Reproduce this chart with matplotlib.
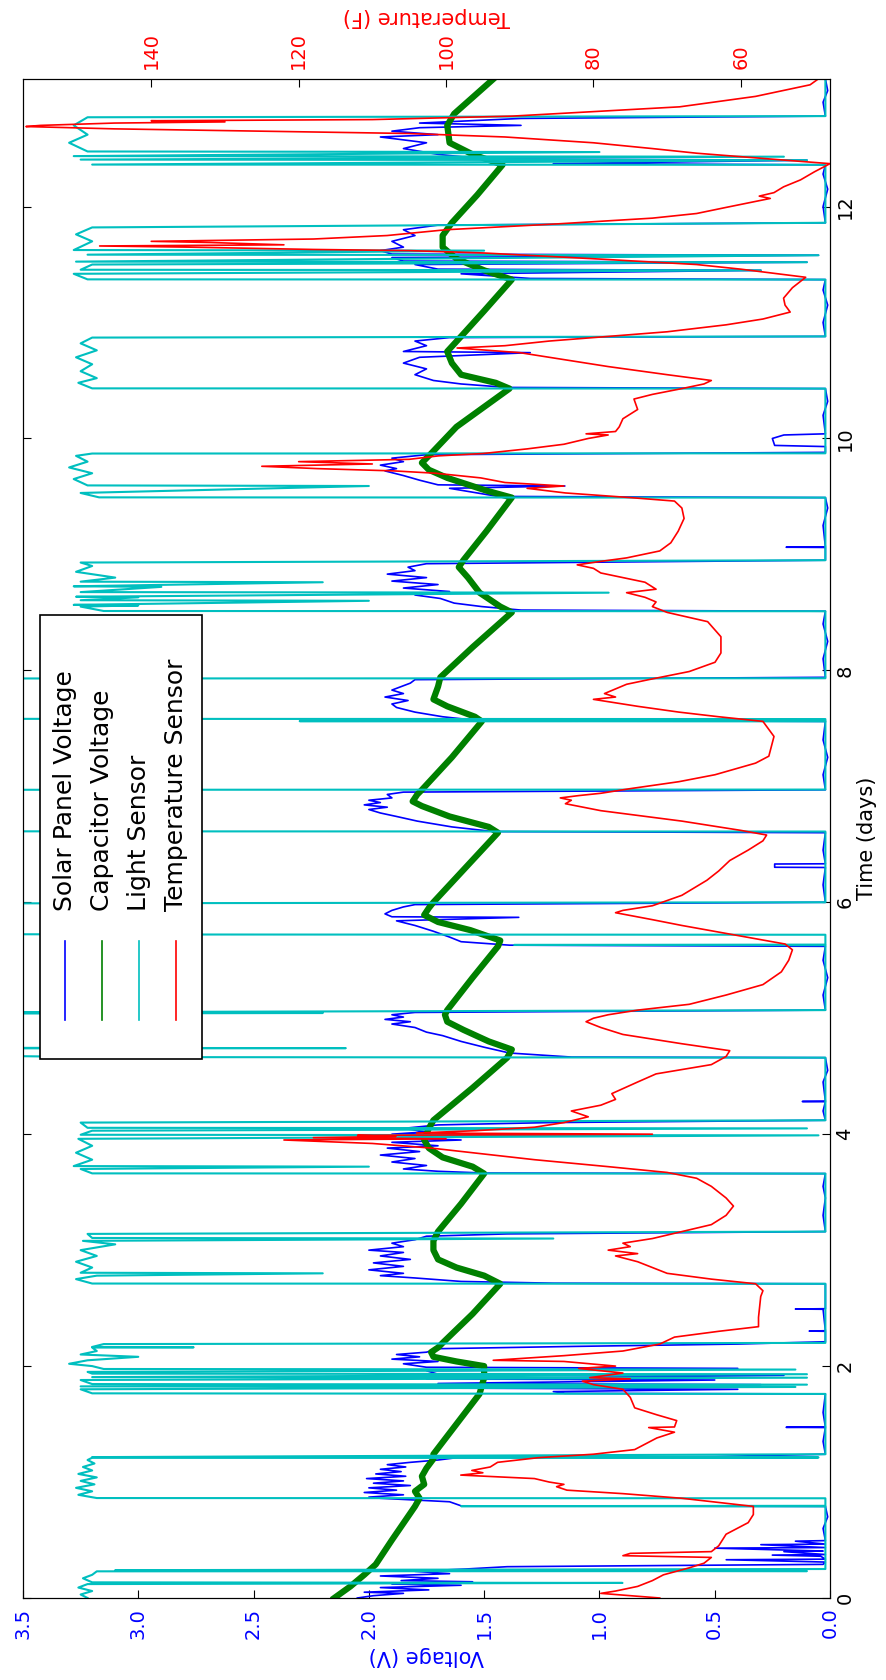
import numpy as np
import matplotlib
matplotlib.use('Agg')
import matplotlib.pyplot as plt
from matplotlib.lines import Line2D
from matplotlib.patches import Rectangle

# (time in days, volts) -- solar panel voltage
solar = [(0.00,2.05),(0.02,1.98),(0.04,1.85),(0.05,2.02),(0.07,1.74),(0.09,1.95),(0.11,1.60),(0.12,1.90),(0.14,1.55),(0.15,1.86),(0.17,1.70),(0.19,1.95),(0.21,1.65),(0.23,1.80),(0.25,1.58),(0.27,1.40),(0.29,0.03),
(0.31,0.02),(0.33,0.45),(0.335,0.02),(0.36,0.04),(0.37,0.25),(0.375,0.02),(0.40,0.20),(0.405,0.03),(0.43,0.50),(0.435,0.02),(0.46,0.30),(0.465,0.02),(0.49,0.15),(0.495,0.02),(0.60,0.03),(0.70,0.01),(0.79,0.02),
(0.795,1.60),(0.83,1.65),(0.86,1.95),(0.87,2.00),(0.89,1.85),(0.91,2.02),(0.93,1.88),(0.95,2.00),(0.97,1.82),(0.99,1.98),(1.01,1.85),(1.03,2.01),(1.05,1.84),(1.07,1.97),(1.09,1.86),(1.11,1.95),(1.13,1.84),(1.15,1.92),(1.17,1.82),(1.19,1.70),(1.21,1.62),(1.22,0.50),(1.24,0.02),
(1.35,0.03),(1.47,0.02),(1.472,0.19),(1.475,0.02),(1.60,0.03),(1.76,0.02),
(1.765,1.15),(1.78,1.20),(1.80,0.40),(1.81,1.65),(1.84,0.30),(1.85,1.70),(1.88,0.50),(1.89,1.75),(1.92,0.20),(1.93,1.70),(1.96,1.75),(1.98,0.40),(1.99,1.75),(2.02,1.85),(2.04,1.70),(2.06,1.90),(2.08,1.78),(2.10,1.88),(2.12,1.75),(2.15,1.70),(2.17,1.10),(2.19,0.40),(2.21,0.02),
(2.30,0.02),(2.302,0.09),(2.305,0.02),(2.49,0.03),(2.492,0.15),(2.495,0.02),(2.60,0.02),(2.71,0.02),
(2.715,1.20),(2.73,1.60),(2.76,1.80),(2.78,1.95),(2.80,1.85),(2.83,2.00),(2.86,1.85),(2.89,1.98),(2.92,1.82),(2.95,1.95),(2.98,1.85),(3.00,2.00),(3.03,1.85),(3.06,1.90),(3.09,1.80),(3.12,1.75),(3.14,1.40),(3.16,0.02),
(3.30,0.03),(3.45,0.02),(3.55,0.03),(3.66,0.02),
(3.665,1.50),(3.68,1.70),(3.70,1.85),(3.73,1.75),(3.76,1.90),(3.79,1.80),(3.82,1.95),(3.85,1.78),(3.88,1.92),(3.90,1.70),(3.93,1.90),(3.95,1.60),(3.97,1.95),(3.99,1.30),(4.00,1.90),(4.02,1.75),(4.05,1.85),(4.08,1.70),(4.10,1.22),(4.12,0.02),
(4.20,0.03),(4.28,0.02),(4.282,0.12),(4.285,0.02),(4.45,0.03),(4.55,0.01),(4.66,0.02),
(4.665,1.12),(4.70,1.39),(4.75,1.50),(4.80,1.60),(4.85,1.68),(4.88,1.75),(4.92,1.80),(4.95,1.90),(4.97,1.82),(4.99,1.93),(5.01,1.85),(5.03,1.90),(5.05,1.80),(5.07,0.02),
(5.20,0.03),(5.35,0.01),(5.50,0.03),(5.62,0.02),
(5.63,1.39),(5.66,1.60),(5.70,1.65),(5.75,1.72),(5.80,1.80),(5.84,1.88),(5.87,1.35),(5.875,1.90),(5.90,1.93),(5.93,1.90),(5.96,1.85),(5.98,1.80),(6.00,0.02),
(6.15,0.03),(6.30,0.02),(6.302,0.24),(6.33,0.24),(6.332,0.02),(6.45,0.03),(6.60,0.02),
(6.61,1.46),(6.65,1.64),(6.70,1.79),(6.74,1.88),(6.77,1.95),(6.80,2.00),(6.82,1.92),(6.84,2.02),(6.86,1.95),(6.88,2.00),(6.90,1.90),(6.93,1.92),(6.95,1.85),(6.97,0.02),
(7.10,0.03),(7.25,0.01),(7.40,0.03),(7.56,0.02),
(7.57,1.54),(7.60,1.68),(7.64,1.80),(7.68,1.88),(7.71,1.90),(7.74,1.83),(7.77,1.93),(7.80,1.85),(7.83,1.90),(7.86,1.86),(7.89,1.82),(7.92,1.80),(7.94,0.02),
(8.10,0.03),(8.25,0.01),(8.40,0.03),(8.51,0.02),
(8.52,1.34),(8.55,1.51),(8.58,1.63),(8.62,1.69),(8.65,1.80),(8.68,1.65),(8.71,1.85),(8.74,1.70),(8.77,1.90),(8.80,1.75),(8.83,1.92),(8.86,1.80),(8.89,1.83),(8.92,1.75),(8.95,0.02),
(9.06,0.02),(9.062,0.19),(9.065,0.02),(9.25,0.03),(9.40,0.01),(9.49,0.02),
(9.50,1.44),(9.54,1.56),(9.57,1.65),(9.59,1.15),(9.60,1.70),(9.64,1.78),(9.68,1.85),(9.72,1.93),(9.74,1.88),(9.77,1.95),(9.80,1.85),(9.83,1.90),(9.86,1.75),(9.88,0.02),
(9.93,0.02),(9.94,0.24),(10.00,0.25),(10.03,0.20),(10.04,0.02),(10.20,0.03),(10.32,0.01),(10.43,0.02),
(10.44,1.40),(10.47,1.60),(10.50,1.72),(10.55,1.80),(10.60,1.75),(10.65,1.85),(10.70,1.78),(10.74,1.30),(10.75,1.85),(10.80,1.75),(10.84,1.80),(10.87,1.65),(10.88,0.02),
(11.00,0.03),(11.15,0.01),(11.28,0.03),(11.37,0.02),
(11.38,1.30),(11.42,1.60),(11.45,0.30),(11.46,1.70),(11.50,1.80),(11.52,0.10),(11.53,1.85),(11.56,1.90),(11.58,0.05),(11.59,1.90),(11.62,1.95),(11.65,1.85),(11.70,1.90),(11.75,1.80),(11.80,1.85),(11.84,1.70),(11.86,0.02),
(12.00,0.03),(12.15,0.01),(12.28,0.03),(12.36,0.02),
(12.37,1.20),(12.40,0.10),(12.41,1.50),(12.45,1.70),(12.50,1.85),(12.55,1.75),(12.60,1.95),(12.62,1.70),(12.65,1.90),(12.68,1.78),(12.70,1.34),(12.72,1.78),(12.76,1.34),(12.78,0.02),
(12.90,0.03),(13.00,0.01),(13.10,0.02)]

# capacitor voltage
capacitor = [(0.00,2.15),(0.10,2.08),(0.20,2.02),(0.29,1.97),(0.50,1.90),(0.79,1.80),(0.86,1.78),(0.92,1.80),(0.98,1.76),(1.05,1.77),(1.12,1.75),(1.20,1.72),(1.24,1.72),
(1.50,1.62),(1.76,1.52),(1.90,1.50),(2.00,1.50),(2.04,1.62),(2.08,1.72),(2.12,1.73),(2.16,1.70),(2.20,1.68),(2.45,1.55),(2.71,1.43),(2.78,1.50),(2.85,1.62),(2.92,1.70),(3.00,1.72),(3.08,1.72),(3.16,1.70),
(3.40,1.60),(3.66,1.50),(3.72,1.55),(3.80,1.68),(3.88,1.74),(3.95,1.76),(4.05,1.74),(4.12,1.72),(4.40,1.55),(4.66,1.40),(4.73,1.38),(4.80,1.48),(4.90,1.59),(4.97,1.66),(5.03,1.67),(5.07,1.66),
(5.35,1.55),(5.62,1.44),(5.67,1.43),(5.76,1.56),(5.83,1.70),(5.89,1.76),(5.95,1.74),(6.00,1.72),(6.30,1.58),(6.60,1.44),(6.65,1.48),(6.74,1.65),(6.83,1.77),(6.87,1.81),(6.93,1.79),(6.97,1.77),
(7.25,1.64),(7.56,1.51),(7.60,1.54),(7.69,1.66),(7.75,1.72),(7.86,1.70),(7.94,1.69),(8.20,1.55),(8.50,1.38),(8.55,1.43),(8.67,1.52),(8.80,1.57),(8.89,1.61),(8.95,1.59),
(9.20,1.49),(9.49,1.38),(9.55,1.49),(9.66,1.66),(9.73,1.74),(9.79,1.77),(9.87,1.73),(10.10,1.62),(10.43,1.39),(10.48,1.45),(10.55,1.60),(10.65,1.64),(10.75,1.66),(10.88,1.60),
(11.10,1.50),(11.37,1.38),(11.45,1.50),(11.55,1.62),(11.65,1.68),(11.75,1.68),(11.86,1.64),(12.10,1.53),(12.36,1.42),(12.45,1.55),(12.55,1.65),(12.70,1.66),(12.80,1.63),(13.10,1.46)]

# light sensor
light = [(0.00,3.22),(0.03,3.25),(0.06,3.20),(0.09,3.26),(0.12,3.22),(0.13,0.90),(0.135,3.20),(0.17,3.24),(0.20,3.20),(0.23,3.18),(0.232,0.10),(0.24,3.10),(0.25,0.02),
(0.79,0.02),(0.792,1.60),(0.795,0.02),(0.86,0.02),(0.862,3.18),(0.89,3.26),(0.92,3.20),(0.95,3.27),(0.98,3.19),(1.01,3.25),(1.04,3.18),(1.07,3.26),(1.10,3.20),(1.13,3.24),(1.16,3.19),(1.19,3.22),(1.21,3.20),(1.212,0.05),(1.215,3.20),(1.24,0.02),
(1.76,0.02),(1.765,3.20),(1.80,3.25),(1.82,0.15),(1.825,3.25),(1.84,0.10),(1.845,3.20),(1.88,3.25),(1.90,0.10),(1.905,3.20),(1.93,0.10),(1.935,3.20),(1.95,3.22),(1.97,0.15),(1.975,3.15),(2.00,3.20),(2.02,3.30),(2.05,3.22),(2.08,3.00),(2.10,3.25),(2.13,3.18),(2.16,3.20),(2.162,2.76),(2.165,3.20),(2.19,3.15),(2.20,0.02),
(2.71,0.02),(2.712,3.20),(2.75,3.27),(2.78,3.18),(2.80,2.20),(2.805,3.25),(2.85,3.20),(2.90,3.27),(2.95,3.18),(3.00,3.25),(3.05,3.10),(3.08,3.24),(3.10,1.20),(3.105,3.20),(3.14,3.22),(3.16,0.02),
(3.66,0.02),(3.662,3.20),(3.70,3.25),(3.72,2.00),(3.725,3.28),(3.78,3.20),(3.84,3.27),(3.90,3.20),(3.96,3.26),(3.99,0.05),(3.995,3.25),(4.03,3.20),(4.05,0.10),(4.055,3.22),(4.10,3.25),(4.12,0.02),
(4.66,0.02),(4.665,3.20),(4.68,3.80),(4.74,3.80),(4.742,2.10),(4.745,3.80),(5.04,3.80),(5.045,2.20),(5.05,3.80),(5.07,0.02),
(5.63,0.02),(5.632,1.37),(5.635,0.02),(5.72,0.02),(5.722,2.73),(5.725,3.80),(5.99,3.80),(6.00,0.02),
(6.61,0.02),(6.612,3.80),(6.97,3.80),(6.972,0.02),
(7.56,0.02),(7.562,2.30),(7.565,0.02),(7.58,0.02),(7.582,3.80),(7.93,3.80),(7.932,0.02),
(8.51,0.02),(8.512,3.15),(8.55,3.25),(8.56,3.00),(8.565,3.28),(8.60,2.00),(8.605,3.25),(8.63,3.00),(8.635,3.27),(8.67,0.96),(8.675,3.25),(8.72,2.90),(8.725,3.28),(8.76,2.20),(8.765,3.25),(8.80,3.10),(8.85,3.27),(8.90,3.20),(8.93,3.25),(8.95,0.02),
(9.49,0.02),(9.492,3.17),(9.53,3.25),(9.59,2.00),(9.595,3.22),(9.65,3.28),(9.70,3.20),(9.75,3.30),(9.80,3.22),(9.85,3.27),(9.87,3.20),(9.872,0.02),
(10.43,0.02),(10.432,3.20),(10.48,3.26),(10.52,3.18),(10.58,3.25),(10.64,3.20),(10.70,3.27),(10.76,3.18),(10.82,3.25),(10.87,3.20),(10.88,0.02),
(11.37,0.02),(11.372,3.22),(11.42,3.28),(11.45,0.30),(11.455,3.25),(11.50,3.20),(11.52,0.10),(11.525,3.27),(11.58,0.05),(11.585,3.22),(11.62,1.50),(11.625,3.28),(11.70,3.20),(11.76,3.27),(11.82,3.20),(11.86,0.02),
(12.36,0.02),(12.362,3.20),(12.40,0.10),(12.405,3.25),(12.43,0.20),(12.435,3.28),(12.47,1.00),(12.475,3.22),(12.55,3.30),(12.62,3.22),(12.70,3.28),(12.77,3.22),(12.78,0.02),
(13.10,0.02)]

# temperature sensor, deg F
temperature = [(0.00,71),(0.02,75),(0.04,79),(0.06,77),(0.10,74),(0.15,72),(0.20,70.5),(0.26,67),(0.30,65),(0.35,64),(0.365,76),(0.385,75),(0.40,64),(0.45,63),(0.55,62),(0.65,59),(0.72,58.3),(0.79,58.3),
(0.86,68),(0.90,76),(0.93,83.6),(0.96,85),(0.98,84),(1.00,86),(1.03,88),(1.06,98),(1.08,95),(1.10,96.5),(1.13,94),(1.17,93),(1.21,87.5),(1.24,80),(1.28,74.4),(1.38,71.4),(1.43,69),(1.47,72.5),(1.475,69),
(1.53,68.7),(1.58,71.4),(1.64,74.4),(1.73,75),(1.80,76),(1.84,80),(1.87,81.5),(1.89,75),(1.90,80.5),(1.94,76),(1.98,82),(2.00,77),(2.04,84),(2.05,93.6),(2.09,84),(2.13,76),(2.19,71),(2.25,69),(2.30,63),(2.34,57.6),(2.42,57.6),
(2.60,57.3),(2.65,57),(2.71,58),(2.75,64),(2.80,70),(2.85,72),(2.90,74),(2.95,77),(2.97,74),(3.00,78),(3.03,75),(3.06,76),(3.10,72),(3.16,68),(3.22,64),(3.30,62),(3.38,61),(3.45,62),(3.55,64),(3.62,66),
(3.67,70),(3.72,78),(3.78,88),(3.83,95),(3.88,102),(3.92,110),(3.95,122),(3.96,100),(3.97,118),(3.98,106.8),(3.99,112),(4.00,72),(4.01,104),(4.03,96),(4.06,88),(4.10,84),(4.15,80.7),(4.20,83),(4.25,79),(4.30,77),(4.35,77.5),(4.45,74),(4.52,71.5),(4.60,64),(4.67,62),(4.72,61.5),
(4.78,68),(4.82,72),(4.86,76),(4.92,79),(4.97,81),(5.00,80),(5.03,78),(5.07,74),(5.12,67),(5.20,62),(5.29,57),(5.40,54.5),(5.50,53.5),(5.59,53),(5.64,54),(5.72,61),(5.80,68),(5.85,72),(5.89,75.3),(5.91,77),(5.93,76),(5.97,72),
(6.06,68),(6.19,64.6),(6.27,63),(6.30,62.5),(6.36,61.5),(6.45,59),(6.53,57),(6.58,56.5),(6.62,60),(6.70,68),(6.79,79),(6.85,83.8),(6.88,83),(6.90,84.5),(6.92,82),(6.94,79),(6.98,75),(7.04,68.4),(7.10,63.5),(7.20,58),(7.26,56.2),(7.43,55.5),
(7.56,57),(7.60,63),(7.64,68.4),(7.69,74),(7.73,78),(7.75,80),(7.77,77),(7.80,78.5),(7.84,77),(7.88,75.5),(7.92,72.5),(7.99,67),(8.07,63.5),(8.15,62.7),(8.29,62.7),(8.42,64.5),
(8.50,70),(8.55,72),(8.59,71.5),(8.63,73),(8.67,75.5),(8.70,71.5),(8.76,73),(8.80,76),(8.84,79),(8.88,80),(8.91,82.2),(8.94,79),(8.97,75.5),(9.03,71),(9.10,69.5),(9.20,68.5),(9.31,67.7),(9.40,68),(9.46,69),
(9.49,75),(9.53,83.8),(9.57,89),(9.59,84),(9.62,92),(9.66,95.3),(9.70,101.4),(9.72,107),(9.74,117.5),(9.76,125),(9.78,110),(9.80,120),(9.82,105),(9.85,101),(9.87,95),(9.91,89),(9.95,84),(10.00,80.7),(10.03,78),(10.04,81),(10.06,77),
(10.10,76.5),(10.17,76),(10.25,74),(10.34,74.5),(10.38,72),(10.43,68),(10.47,65),(10.50,64),(10.55,70),(10.62,78),(10.68,84),(10.74,90),(10.78,98.5),(10.80,92),(10.84,86),(10.88,78),(10.92,70),(10.95,66),(10.98,62),(11.03,57),(11.09,53.3),
(11.15,54),(11.21,54.2),(11.30,53),(11.39,51.2),(11.42,55),(11.46,60),(11.50,66),(11.55,80),(11.60,95),(11.62,105),(11.63,118),(11.65,135),(11.66,147),(11.67,122),(11.69,132),(11.70,140),(11.72,118),(11.75,108),(11.80,100),(11.85,85),(11.90,72),
(11.94,66),(11.99,62.2),(12.07,56),(12.09,57.5),(12.12,55.5),(12.17,54.2),(12.23,51.9),(12.30,50),(12.37,47.9),(12.40,54),(12.46,66),(12.50,72),(12.55,80),(12.60,92),(12.63,105),(12.65,125),(12.67,145),(12.69,157),(12.70,155),
(12.72,145),(12.73,130),(12.74,140),(12.75,110),(12.78,91),(12.86,68.3),(12.95,58),(13.05,50.6),(13.10,49.5)]

volt_ticks = [0.0, 0.5, 1.0, 1.5, 2.0, 2.5, 3.0, 3.5]
day_ticks = [0, 2, 4, 6, 8, 10, 12]
temp_ticks = [60, 80, 100, 120, 140]
legend_names = ['Solar Panel Voltage', 'Capacitor Voltage', 'Light Sensor', 'Temperature Sensor']
legend_colors = ['b', 'g', 'c', 'r']

W, H = 886, 1680
fig = plt.figure(figsize=(W/100, H/100), dpi=100)
ax = fig.add_axes([23/W, 82/H, 807/W, 1519/H])

st, sv = np.array(solar).T
ct, cv = np.array(capacitor).T
lt, lv = np.array(light).T
tt, tv = np.array(temperature).T

# the whole chart is turned a quarter turn: voltage runs along x, time up the page
ax.plot(sv, st, color='b', lw=1.2)
ax.plot(cv, ct, color='g', lw=4.5)
ax.plot(lv, lt, color='c', lw=1.5)
ax.set_xlim(3.5, 0)
ax.set_ylim(0, 13.1)
ax.set_xticks(volt_ticks)
ax.set_xticklabels(['%.1f' % v for v in volt_ticks])
ax.set_yticks(day_ticks)
ax.tick_params(axis='x', direction='in', length=6, bottom=True, top=False,
               labelrotation=90, labelcolor='b', labelsize=14, pad=7)
ax.tick_params(axis='y', direction='in', length=6, left=True, right=True,
               labelleft=False, labelright=True, labelrotation=90, labelsize=14, pad=4)
plt.setp(ax.get_yticklabels(), va='center')
ax.set_xlabel('Voltage (V)', color='b', fontsize=15, rotation=180, labelpad=5)
ax.yaxis.set_label_position('right')
ax.set_ylabel('Time (days)', fontsize=15, labelpad=2)

ax2 = ax.twiny()
ax2.plot(tv, tt, color='r', lw=1.2)
ax2.set_xlim(157.4, 47.9)
ax2.set_ylim(0, 13.1)
ax2.set_xticks(temp_ticks)
ax2.tick_params(axis='x', direction='in', length=6, top=True, bottom=False,
                labelrotation=90, labelcolor='r', labelsize=14, pad=7)
ax2.set_xlabel('Temperature (F)', color='r', fontsize=15, rotation=180, labelpad=7)

# legend drawn by hand, turned with the chart
tf = fig.transFigure
fig.add_artist(Rectangle((40/W, 1 - 1059/H), 162/W, 444/H, transform=tf,
                         facecolor='white', edgecolor='black', lw=1.2, zorder=10))
for i, (name, col) in enumerate(zip(legend_names, legend_colors)):
    x = (65 + 37*i)/W
    fig.add_artist(Line2D([x, x], [1 - 1020/H, 1 - 941/H], transform=tf, color=col, lw=1.2, zorder=11))
    fig.text(x, 1 - 911/H, name, rotation=90, ha='center', va='bottom', fontsize=18, zorder=11)

fig.savefig('out.png', dpi=100)
